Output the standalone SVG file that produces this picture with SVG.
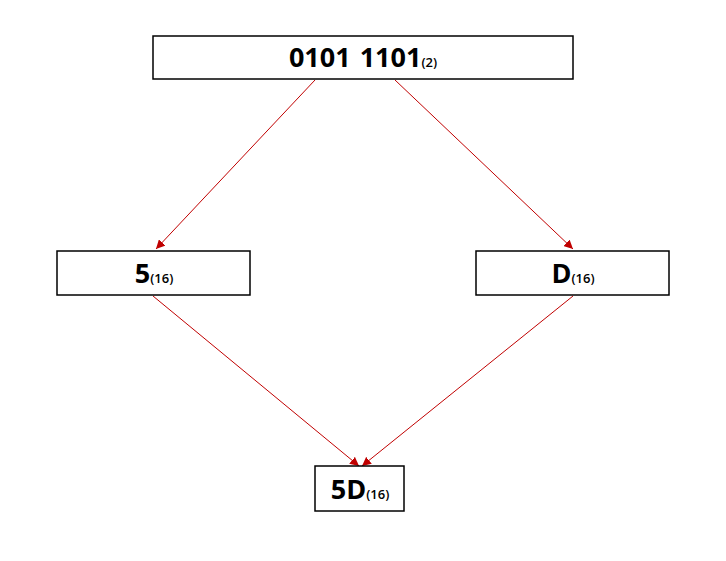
<svg xmlns="http://www.w3.org/2000/svg" width="726" height="561" viewBox="0 0 726 561">
<defs>
<marker id="ah" viewBox="0 0 10 10" refX="10" refY="5" markerWidth="9" markerHeight="9" markerUnits="userSpaceOnUse" orient="auto">
<path d="M0,0 L10,5 L0,10 z" fill="#c00000"/>
</marker>
<style>
.box{fill:#fff;stroke:#000;stroke-width:1.5}
.t{font-family:"Open Sans","Noto Sans",sans-serif;font-weight:bold;font-size:27px;fill:#000}
.s{font-size:13px;font-weight:600}
.c{stroke:#c00000;stroke-width:1;fill:none;marker-end:url(#ah)}
</style>
</defs>
<rect width="726" height="561" fill="#fff"/>
<g id="connectors">
<line class="c" x1="315" y1="80" x2="156" y2="249"/>
<line class="c" x1="395" y1="80" x2="573" y2="249"/>
<line class="c" x1="153" y1="296" x2="359" y2="466"/>
<line class="c" x1="573" y1="296" x2="362" y2="466"/>
</g>
<g id="n1"><rect class="box" x="153" y="36" width="420" height="43"/><text class="t" x="363" y="67" text-anchor="middle">0101 <tspan dx="2">1101</tspan><tspan class="s">(2)</tspan></text></g>
<g id="n2"><rect class="box" x="57" y="251" width="193" height="44"/><text class="t" x="154" y="283" text-anchor="middle">5<tspan class="s">(16)</tspan></text></g>
<g id="n3"><rect class="box" x="476" y="251" width="193" height="44"/><text class="t" x="573" y="283" text-anchor="middle">D<tspan class="s">(16)</tspan></text></g>
<g id="n4"><rect class="box" x="315" y="466" width="89" height="45"/><text class="t" x="360" y="499" text-anchor="middle">5D<tspan class="s">(16)</tspan></text></g>
</svg>
